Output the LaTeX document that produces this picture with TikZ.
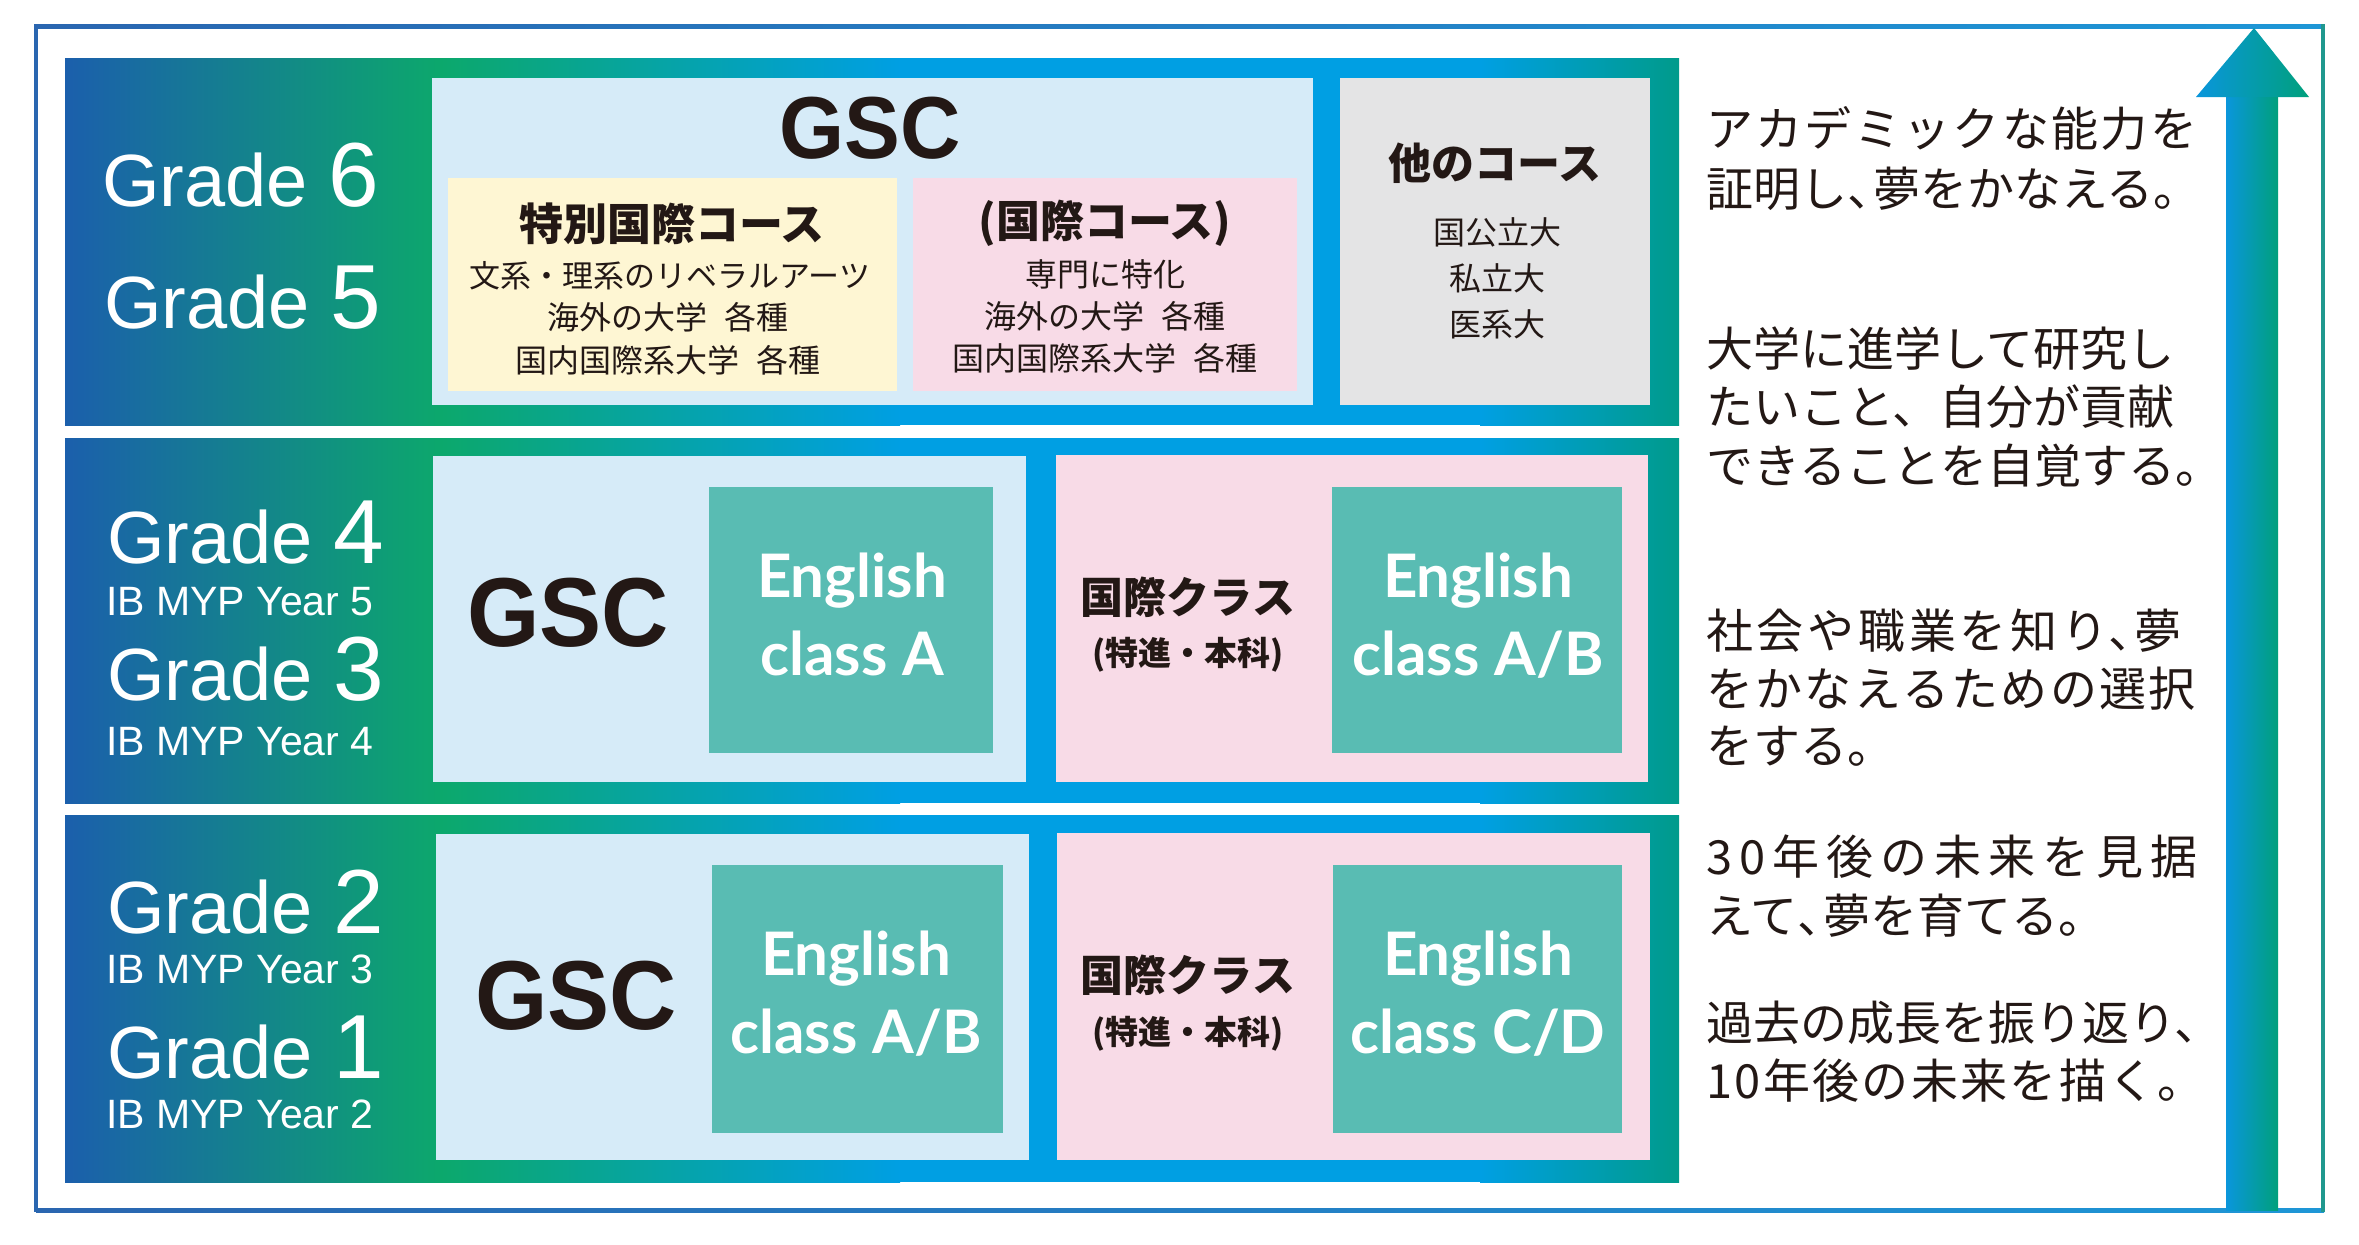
\documentclass[tikz,border=0pt]{standalone}
\usepackage{fontspec}
\setmainfont{Liberation Sans}
\newfontfamily\hv[FakeStretch=0.95]{Liberation Sans}
\newfontfamily\jp{Noto Sans CJK JP}
\newfontfamily\lat{Lato}
\definecolor{bBlue}{HTML}{1B5FAC}
\definecolor{bGreen}{HTML}{0CA86C}
\definecolor{bCyan}{HTML}{009FE3}
\definecolor{bTeal}{HTML}{009B8B}
\definecolor{ltblue}{HTML}{D6EBF8}
\definecolor{pinkbox}{HTML}{F8DBE7}
\definecolor{yelbox}{HTML}{FEF6D3}
\definecolor{graybox}{HTML}{E4E4E5}
\definecolor{tealbox}{HTML}{59BCB3}
\definecolor{ink}{HTML}{231815}
\definecolor{aBlue}{HTML}{0A96DC}
\definecolor{aGreen}{HTML}{00A07C}
\definecolor{fBlue}{HTML}{2A66B0}
\definecolor{fGreen}{HTML}{22A07A}
\definecolor{fCyan}{HTML}{1E96D6}
\definecolor{fTeal}{HTML}{20988E}
\newcommand\gd[1]{{\fontsize{91}{91}\selectfont #1}}
\newcommand\jsp{\hspace{0.55em}}
\newcommand\tc{\makebox[0.55em][l]{、}}
\newcommand\lsp[1]{\addfontfeature{LetterSpace=#1}}
\newcommand\band[2]{%
  \shade[left color=bBlue,right color=bGreen] (65,#1) rectangle (442,#2);
  \shade[left color=bGreen,right color=bCyan] (441,#1) rectangle (900,#2);
  \fill[bCyan] (899,#1) rectangle (1481,#2);
  \shade[left color=bCyan,right color=bTeal] (1480,#1) rectangle (1679,#2);}
\begin{document}
\begin{tikzpicture}[x=1pt,y=-1pt,
  grade/.style={anchor=base west,inner sep=0,text=white,font=\fontsize{74}{74}\selectfont},
  ib/.style={anchor=base west,inner sep=0,text=white,font=\fontsize{41}{41}\selectfont},
  gsc/.style={inner sep=0,text=ink,font=\hv\bfseries\fontsize{98}{98}\selectfont},
  jph/.style={inner sep=0,text=ink,font=\jp\bfseries\fontsize{44}{44}\selectfont},
  jps/.style={inner sep=0,text=ink,font=\jp\fontsize{32}{32}\selectfont},
  jpg/.style={inner sep=0,text=ink,font=\jp\fontsize{32}{32}\selectfont},
  jpk/.style={inner sep=0,text=ink,font=\jp\bfseries\fontsize{43}{43}\selectfont},
  jpp/.style={inner sep=0,text=ink,font=\jp\bfseries\fontsize{33}{33}\selectfont},
  eng/.style={anchor=base,inner sep=0,text=white,font=\lat\bfseries\fontsize{60}{60}\selectfont},
  rtxt/.style={anchor=base west,inner sep=0,text=ink,font=\jp\fontsize{47}{47}\selectfont}]
\useasboundingbox (0,0) rectangle (2359,1245);
\fill[white] (0,0) rectangle (2359,1245);
% outer frame
\shade[left color=fBlue,middle color=fGreen,right color=fCyan] (36,24) rectangle (2324,28);
\shade[left color=fBlue,middle color=fGreen,right color=fCyan] (36,1208) rectangle (2324,1212);
\fill[fBlue] (34,24) rectangle (38,1212);
\fill[fTeal] (2321,24) rectangle (2325,1212);
% arrow
\shade[left color=aBlue,right color=aGreen] (2226,95) rectangle (2278,1210);
\shade[left color=aBlue,right color=aGreen] (2196,97) -- (2254,28) -- (2309,97) -- cycle;
% bands
\band{58}{425}
\band{438}{803}
\band{815}{1182}
% row 1 boxes
\fill[ltblue] (432,78) rectangle (1313,405);
\fill[yelbox] (448,178) rectangle (897,391);
\fill[pinkbox] (913,178) rectangle (1297,391);
\fill[graybox] (1340,78) rectangle (1650,405);
% row 2 boxes
\fill[ltblue] (433,456) rectangle (1026,782);
\fill[tealbox] (709,487) rectangle (993,753);
\fill[pinkbox] (1056,455) rectangle (1648,782);
\fill[tealbox] (1332,487) rectangle (1622,753);
% row 3 boxes
\fill[ltblue] (436,834) rectangle (1029,1160);
\fill[tealbox] (712,865) rectangle (1003,1133);
\fill[pinkbox] (1057,833) rectangle (1650,1160);
\fill[tealbox] (1333,865) rectangle (1622,1133);
% grade labels
\node[grade] (g6) at (102,206) {Grade \gd{6}};
\node[grade] (g5) at (104,328) {Grade \gd{5}};
\node[grade] (g4) at (107,563) {Grade \gd{4}};
\node[ib] (y5) at (106,615) {IB MYP Year 5};
\node[grade] (g3) at (107,700) {Grade \gd{3}};
\node[ib] (y4) at (106,755) {IB MYP Year 4};
\node[grade] (g2) at (107,933) {Grade \gd{2}};
\node[ib] (y3) at (106,983) {IB MYP Year 3};
\node[grade] (g1) at (107,1078) {Grade \gd{1}};
\node[ib] (y2) at (106,1128) {IB MYP Year 2};
% row 1 texts
\node[gsc,font=\hv\bfseries\fontsize{88}{88}\selectfont] (gsc1) at (870,128) {GSC};
\node[jph] (tk) at (672,224) {特別国際コース};
\node[jps] (tk1) at (670,276) {\fontsize{31}{31}\selectfont 文系・理系のリベラルアーツ};
\node[jps] (tk2) at (668,317) {海外の大学\jsp 各種};
\node[jps] (tk3) at (668,360) {国内国際系大学\jsp 各種};
\node[jph] (kk) at (1105,223) {(国際コース)};
\node[jps] (kk1) at (1105,274) {専門に特化};
\node[jps] (kk2) at (1105,316) {海外の大学\jsp 各種};
\node[jps] (kk3) at (1105,358) {国内国際系大学\jsp 各種};
\node[jpk] (ot) at (1495,163) {他のコース};
\node[jpg] (ot1) at (1497,232) {国公立大};
\node[jpg] (ot2) at (1497,278) {私立大};
\node[jpg] (ot3) at (1497,324) {医系大};
% row 2 texts
\node[gsc] (gsc2) at (568,613) {GSC};
\node[eng] (e2a) at (852,597) {English};
\node[eng] (e2b) at (852,675) {class A};
\node[jpk] (kc2) at (1188,597) {国際クラス};
\node[jpp] (kp2) at (1188,655) {(特進・本科)};
\node[eng] (e2c) at (1478,597) {English};
\node[eng] (e2d) at (1478,675) {class A/B};
% row 3 texts
\node[gsc] (gsc3) at (576,996) {GSC};
\node[eng] (e3a) at (856,975) {English};
\node[eng] (e3b) at (856,1053) {class A/B};
\node[jpk] (kc3) at (1188,975) {国際クラス};
\node[jpp] (kp3) at (1188,1034) {(特進・本科)};
\node[eng] (e3c) at (1478,975) {English};
\node[eng] (e3d) at (1478,1053) {class C/D};
% right column
\node[rtxt] (r1a) at (1706,146) {\lsp{5}アカデミックな能力を};
\node[rtxt] (r1b) at (1706,206) {証明し\tc 夢をかなえる。};
\node[rtxt] (r2a) at (1706,366) {大学に進学して研究し};
\node[rtxt] (r2b) at (1706,424) {たいこと、自分が貢献};
\node[rtxt] (r2c) at (1706,483) {できることを自覚する。};
\node[rtxt] (r3a) at (1706,648) {\lsp{8}社会や職業を知り\tc 夢};
\node[rtxt] (r3b) at (1706,706) {\lsp{5}をかなえるための選択};
\node[rtxt] (r3c) at (1706,763) {をする。};
\node[rtxt] (r4a) at (1706,874) {\lsp{15}30年後の未来を見据};
\node[rtxt] (r4b) at (1706,933) {えて\tc 夢を育てる。};
\node[rtxt] (r5a) at (1706,1040) {過去の成長を振り返り、};
\node[rtxt] (r5b) at (1706,1098) {\lsp{5}10年後の未来を描く。};
\end{tikzpicture}
\end{document}
